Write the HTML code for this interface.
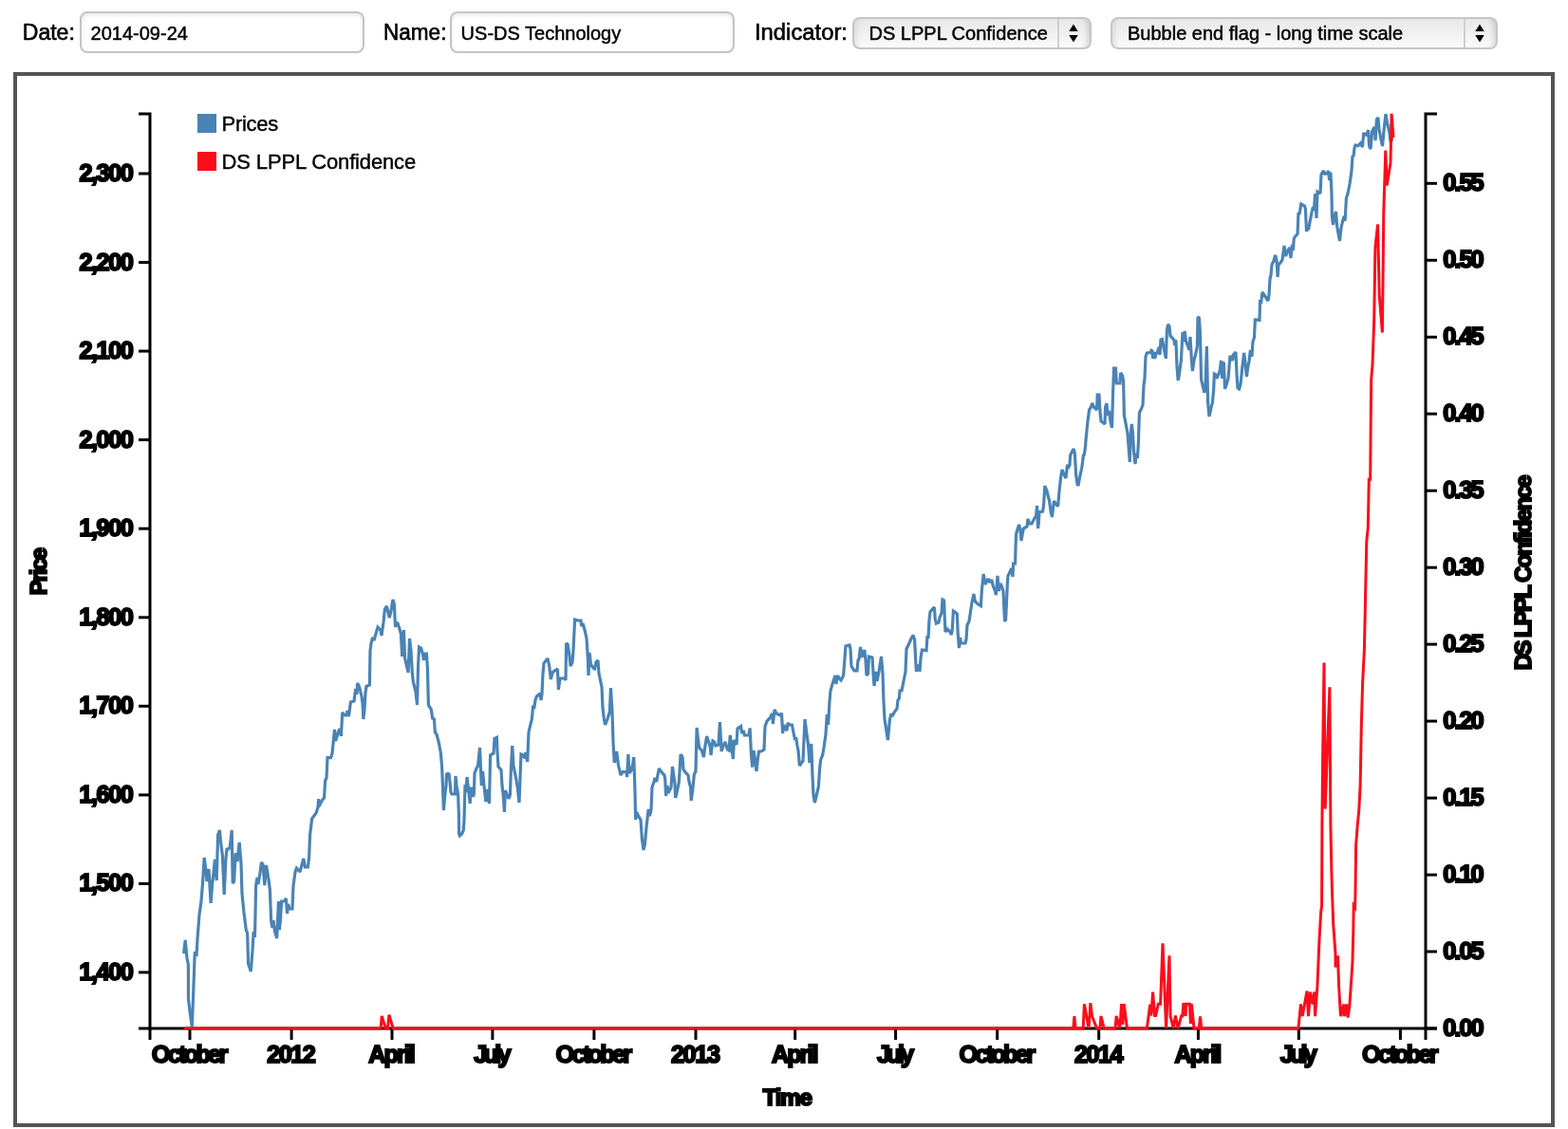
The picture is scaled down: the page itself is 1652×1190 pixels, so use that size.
<!DOCTYPE html>
<html lang="en">
<head>
<meta charset="utf-8">
<title>DS LPPL Confidence</title>
<style>
html,body{margin:0;padding:0;background:#fff;}
body{width:1652px;height:1190px;position:relative;overflow:hidden;font-family:"Liberation Sans",sans-serif;color:#000;}
.lbl{position:absolute;top:20px;height:28px;line-height:28px;font-size:23px;white-space:nowrap;transform-origin:0 50%;-webkit-text-stroke:0.6px #000;}
.inp{position:absolute;top:12px;height:44px;box-sizing:border-box;border:2px solid #c4c4c4;border-radius:8px;background:#fff;
 box-shadow:inset 0 2px 4px rgba(0,0,0,.10);font-size:20px;line-height:42px;padding-left:9.6px;white-space:nowrap;-webkit-text-stroke:0.45px #000;}
.sel{position:absolute;top:18px;height:34px;box-sizing:border-box;border:2px solid #c6c6c6;border-radius:8px;
 background:linear-gradient(#e8e8e8,#efefef 45%,#fbfbfb);box-shadow:inset -7px 0 6px -5px rgba(0,0,0,.16), inset 7px 0 6px -5px rgba(0,0,0,.10);font-size:20px;line-height:31px;padding-left:16px;white-space:nowrap;-webkit-text-stroke:0.45px #000;}
.sel .dv{position:absolute;top:0;bottom:0;width:2px;background:#cfcfcf;}
.sel svg{position:absolute;top:5px;}
#frame{position:absolute;left:14px;top:76px;width:1624px;height:1112px;box-sizing:border-box;border:4px solid #555;}
.tl text{font-family:"Liberation Sans",sans-serif;font-weight:bold;font-size:25.3px;fill:#000;stroke:#000;stroke-width:2px;stroke-linejoin:miter;}
.lg text{font-family:"Liberation Sans",sans-serif;font-size:22px;fill:#000;stroke:#000;stroke-width:0.4px;}
</style>
</head>
<body>
<div class="lbl" id="l1" style="left:23.8px">Date:</div>
<div class="inp" style="left:84px;width:300px">2014-09-24</div>
<div class="lbl" id="l2" style="left:403.6px;transform:scaleX(.98)">Name:</div>
<div class="inp" style="left:474px;width:300px">US-DS Technology</div>
<div class="lbl" id="l3" style="left:794.6px;transform:scaleX(1.035)">Indicator:</div>
<div class="sel" style="left:897.5px;width:252px">DS LPPL Confidence<span class="dv" style="left:214px"></span>
<svg style="left:224.5px" width="14" height="20" viewBox="0 0 14 20"><path d="M7 0.5L11.7 8H2.3Z M7 19.5L2.3 12H11.7Z" fill="#000"/></svg></div>
<div class="sel" style="left:1170px;width:408px">Bubble end flag - long time scale<span class="dv" style="left:370px"></span>
<svg style="left:380px" width="14" height="20" viewBox="0 0 14 20"><path d="M7 0.5L11.7 8H2.3Z M7 19.5L2.3 12H11.7Z" fill="#000"/></svg></div>
<div id="frame"></div>
<svg width="1652" height="1190" viewBox="0 0 1652 1190" style="position:absolute;left:0;top:0">
<defs><clipPath id="cp"><rect x="150" y="119.5" width="1360" height="970"/></clipPath></defs>
<g fill="none" stroke="#000" stroke-width="3" shape-rendering="auto">
<path d="M146,120H158V1084H146"/>
<path d="M1514,120H1502V1084H1514"/>
<path d="M158,1096V1084H1502V1096"/>
<line x1="146" x2="158" y1="183.0" y2="183.0"/>
<line x1="146" x2="158" y1="276.6" y2="276.6"/>
<line x1="146" x2="158" y1="370.1" y2="370.1"/>
<line x1="146" x2="158" y1="463.6" y2="463.6"/>
<line x1="146" x2="158" y1="557.2" y2="557.2"/>
<line x1="146" x2="158" y1="650.8" y2="650.8"/>
<line x1="146" x2="158" y1="744.3" y2="744.3"/>
<line x1="146" x2="158" y1="837.9" y2="837.9"/>
<line x1="146" x2="158" y1="931.4" y2="931.4"/>
<line x1="146" x2="158" y1="1024.9" y2="1024.9"/>
<line x1="1502" x2="1514" y1="1084.0" y2="1084.0"/>
<line x1="1502" x2="1514" y1="1003.0" y2="1003.0"/>
<line x1="1502" x2="1514" y1="922.1" y2="922.1"/>
<line x1="1502" x2="1514" y1="841.1" y2="841.1"/>
<line x1="1502" x2="1514" y1="760.1" y2="760.1"/>
<line x1="1502" x2="1514" y1="679.1" y2="679.1"/>
<line x1="1502" x2="1514" y1="598.2" y2="598.2"/>
<line x1="1502" x2="1514" y1="517.2" y2="517.2"/>
<line x1="1502" x2="1514" y1="436.2" y2="436.2"/>
<line x1="1502" x2="1514" y1="355.3" y2="355.3"/>
<line x1="1502" x2="1514" y1="274.3" y2="274.3"/>
<line x1="1502" x2="1514" y1="193.3" y2="193.3"/>
<line x1="200.0" x2="200.0" y1="1084" y2="1096"/>
<line x1="307.1" x2="307.1" y1="1084" y2="1096"/>
<line x1="413.0" x2="413.0" y1="1084" y2="1096"/>
<line x1="518.9" x2="518.9" y1="1084" y2="1096"/>
<line x1="625.9" x2="625.9" y1="1084" y2="1096"/>
<line x1="733.0" x2="733.0" y1="1084" y2="1096"/>
<line x1="837.7" x2="837.7" y1="1084" y2="1096"/>
<line x1="943.6" x2="943.6" y1="1084" y2="1096"/>
<line x1="1050.7" x2="1050.7" y1="1084" y2="1096"/>
<line x1="1157.7" x2="1157.7" y1="1084" y2="1096"/>
<line x1="1262.4" x2="1262.4" y1="1084" y2="1096"/>
<line x1="1368.3" x2="1368.3" y1="1084" y2="1096"/>
<line x1="1475.4" x2="1475.4" y1="1084" y2="1096"/>
</g>
<g class="tl">
<text x="140.9" y="191.0" text-anchor="end" textLength="57.5" lengthAdjust="spacing">2,300</text>
<text x="140.9" y="284.6" text-anchor="end" textLength="57.5" lengthAdjust="spacing">2,200</text>
<text x="140.9" y="378.1" text-anchor="end" textLength="57.5" lengthAdjust="spacing">2,100</text>
<text x="140.9" y="471.6" text-anchor="end" textLength="57.5" lengthAdjust="spacing">2,000</text>
<text x="140.9" y="565.2" text-anchor="end" textLength="57.5" lengthAdjust="spacing">1,900</text>
<text x="140.9" y="658.8" text-anchor="end" textLength="57.5" lengthAdjust="spacing">1,800</text>
<text x="140.9" y="752.3" text-anchor="end" textLength="57.5" lengthAdjust="spacing">1,700</text>
<text x="140.9" y="845.9" text-anchor="end" textLength="57.5" lengthAdjust="spacing">1,600</text>
<text x="140.9" y="939.4" text-anchor="end" textLength="57.5" lengthAdjust="spacing">1,500</text>
<text x="140.9" y="1032.9" text-anchor="end" textLength="57.5" lengthAdjust="spacing">1,400</text>
<text x="1520.2" y="1092.0" text-anchor="start" textLength="43.5" lengthAdjust="spacing">0.00</text>
<text x="1520.2" y="1011.0" text-anchor="start" textLength="43.5" lengthAdjust="spacing">0.05</text>
<text x="1520.2" y="930.1" text-anchor="start" textLength="43.5" lengthAdjust="spacing">0.10</text>
<text x="1520.2" y="849.1" text-anchor="start" textLength="43.5" lengthAdjust="spacing">0.15</text>
<text x="1520.2" y="768.1" text-anchor="start" textLength="43.5" lengthAdjust="spacing">0.20</text>
<text x="1520.2" y="687.1" text-anchor="start" textLength="43.5" lengthAdjust="spacing">0.25</text>
<text x="1520.2" y="606.2" text-anchor="start" textLength="43.5" lengthAdjust="spacing">0.30</text>
<text x="1520.2" y="525.2" text-anchor="start" textLength="43.5" lengthAdjust="spacing">0.35</text>
<text x="1520.2" y="444.2" text-anchor="start" textLength="43.5" lengthAdjust="spacing">0.40</text>
<text x="1520.2" y="363.3" text-anchor="start" textLength="43.5" lengthAdjust="spacing">0.45</text>
<text x="1520.2" y="282.3" text-anchor="start" textLength="43.5" lengthAdjust="spacing">0.50</text>
<text x="1520.2" y="201.3" text-anchor="start" textLength="43.5" lengthAdjust="spacing">0.55</text>
<text x="200.0" y="1119.6" text-anchor="middle" textLength="80.6" lengthAdjust="spacing">October</text>
<text x="307.1" y="1119.6" text-anchor="middle" textLength="51.6" lengthAdjust="spacing">2012</text>
<text x="413.0" y="1119.6" text-anchor="middle" textLength="49.6" lengthAdjust="spacing">April</text>
<text x="518.9" y="1119.6" text-anchor="middle" textLength="39.2" lengthAdjust="spacing">July</text>
<text x="625.9" y="1119.6" text-anchor="middle" textLength="80.6" lengthAdjust="spacing">October</text>
<text x="733.0" y="1119.6" text-anchor="middle" textLength="52.2" lengthAdjust="spacing">2013</text>
<text x="837.7" y="1119.6" text-anchor="middle" textLength="49.6" lengthAdjust="spacing">April</text>
<text x="943.6" y="1119.6" text-anchor="middle" textLength="39.2" lengthAdjust="spacing">July</text>
<text x="1050.7" y="1119.6" text-anchor="middle" textLength="80.6" lengthAdjust="spacing">October</text>
<text x="1157.7" y="1119.6" text-anchor="middle" textLength="51.6" lengthAdjust="spacing">2014</text>
<text x="1262.4" y="1119.6" text-anchor="middle" textLength="49.6" lengthAdjust="spacing">April</text>
<text x="1368.3" y="1119.6" text-anchor="middle" textLength="39.2" lengthAdjust="spacing">July</text>
<text x="1475.4" y="1119.6" text-anchor="middle" textLength="80.6" lengthAdjust="spacing">October</text>
</g>
<g class="tl">
<text x="829.8" y="1164.8" text-anchor="middle" textLength="52.2" lengthAdjust="spacing" style="font-size:24.3px">Time</text>
<text transform="translate(49,602.2) rotate(-90)" text-anchor="middle" textLength="50.3" lengthAdjust="spacing" style="font-size:24.3px">Price</text>
<text transform="translate(1613,603.4) rotate(-90)" text-anchor="middle" textLength="205.6" lengthAdjust="spacing" style="font-size:24.3px">DS LPPL Confidence</text>
</g>
<g clip-path="url(#cp)" fill="none" stroke-linejoin="miter" stroke-linecap="butt">
<polyline stroke="#4a83b5" stroke-width="3.2" stroke-miterlimit="2" points="193.6,1005.0 195.2,991.0 197.0,1010.0 198.4,1017.0 198.4,1052.0 200.0,1066.0 202.3,1082.0 203.6,1050.0 205.0,1010.0 205.4,1003.0 207.0,1008.0 208.0,990.0 210.0,964.0 212.0,950.0 213.6,930.0 215.2,904.0 217.0,918.0 218.0,929.0 220.0,916.0 222.1,952.0 223.6,932.0 225.0,920.0 226.4,906.0 228.2,928.0 229.6,880.0 231.4,875.0 232.4,886.0 234.4,902.0 236.2,943.0 238.0,904.0 239.0,895.0 241.0,895.0 242.4,892.0 244.2,875.0 245.2,931.0 246.6,929.0 248.2,899.0 250.0,908.0 252.2,888.0 254.0,910.0 255.0,942.0 257.0,962.0 259.4,981.0 260.6,983.0 261.6,1016.0 263.0,1020.0 264.3,1024.0 266.0,1002.0 267.2,982.0 268.5,988.0 269.6,934.0 271.0,925.0 272.0,932.0 274.0,920.0 275.4,909.0 277.0,911.0 278.8,933.0 280.5,912.0 283.0,927.0 284.4,938.0 285.6,970.0 287.0,978.0 288.0,970.0 289.6,982.0 291.7,989.0 293.5,950.0 294.4,980.0 295.4,970.0 296.6,950.0 299.4,950.0 301.4,947.0 302.5,963.0 303.6,953.0 305.0,958.0 308.0,958.0 309.0,934.0 311.0,919.0 312.4,915.0 316.0,919.0 319.8,905.0 321.4,914.0 324.4,914.0 325.6,904.0 326.6,880.0 328.6,863.0 333.0,857.0 335.0,851.0 335.6,842.0 336.0,850.0 339.0,844.0 341.6,840.6 342.6,823.0 344.0,820.0 345.0,798.6 348.6,798.6 350.0,794.0 351.6,778.0 352.5,769.0 353.6,781.0 356.0,773.0 357.8,768.0 359.4,776.0 360.7,751.0 363.6,754.0 365.4,754.0 366.0,749.0 367.5,755.0 369.4,740.0 373.0,739.0 374.7,726.0 376.0,732.0 376.6,720.0 378.6,724.0 381.0,734.0 382.0,741.0 382.8,758.0 384.0,748.0 385.0,730.0 386.0,723.4 389.4,722.0 390.0,686.0 391.0,678.0 392.6,672.0 394.0,675.0 396.0,668.0 398.0,661.0 401.0,664.0 402.0,670.0 404.0,656.0 405.4,642.0 407.4,639.0 410.3,651.0 412.0,644.0 413.0,637.0 414.0,632.0 415.4,637.0 416.5,661.0 417.6,656.0 419.0,657.0 421.0,663.0 422.4,668.0 423.7,692.0 425.4,664.0 426.6,694.0 429.0,704.0 430.1,709.0 431.5,673.0 433.0,686.0 434.4,710.0 435.4,719.0 438.0,729.0 439.5,743.0 440.6,700.0 441.6,682.0 443.6,683.0 445.6,690.0 446.4,696.0 447.4,689.0 449.4,689.0 450.4,704.0 451.4,743.0 454.4,748.0 455.6,757.0 457.4,758.0 458.4,772.0 460.0,774.0 462.4,783.0 464.4,794.0 465.6,808.0 466.6,832.0 467.4,854.0 468.6,840.0 470.0,828.0 470.6,815.0 472.0,816.0 473.0,815.0 474.0,824.0 475.0,835.0 476.0,837.0 479.4,837.0 480.0,818.0 481.0,828.0 482.6,837.0 483.4,858.0 483.6,879.0 484.4,881.0 486.5,879.0 488.3,875.0 489.0,865.0 489.4,850.0 490.0,827.0 491.0,835.0 492.0,819.0 494.0,836.0 495.2,847.0 496.0,831.0 498.0,831.0 498.6,840.0 499.4,836.0 500.0,815.0 502.0,810.0 503.6,807.0 505.5,788.0 507.3,828.0 508.6,813.0 510.0,828.0 511.9,845.0 513.2,832.0 515.5,847.0 516.6,796.0 520.0,794.0 521.0,778.6 523.4,777.4 524.0,792.0 525.0,808.0 528.0,811.4 529.0,828.0 530.4,840.0 531.4,856.0 532.4,833.0 536.0,842.0 537.4,838.0 538.4,811.0 539.7,786.0 541.0,807.0 543.6,820.0 545.4,831.0 547.0,846.0 548.0,820.0 549.0,795.0 551.0,796.0 553.0,799.0 553.6,793.0 555.7,803.0 557.0,772.0 558.6,765.0 560.4,758.0 561.6,744.0 563.0,745.0 564.0,738.0 565.4,734.0 569.0,731.0 570.0,738.0 571.0,731.0 572.0,710.0 573.0,699.0 577.0,694.0 578.7,702.0 580.4,716.0 582.0,709.0 585.0,706.6 587.4,705.0 588.4,727.0 589.4,719.0 590.4,715.0 595.0,715.0 596.0,717.0 596.6,678.0 598.0,679.0 600.0,691.0 601.0,702.0 603.0,698.0 604.0,686.0 605.6,653.0 609.0,654.0 612.0,654.0 612.6,660.0 614.0,657.0 616.0,664.0 618.0,673.0 619.4,694.0 620.0,712.0 621.1,688.0 622.4,700.0 625.0,704.0 626.6,705.0 628.0,698.0 630.0,696.0 631.0,710.0 634.0,724.0 635.0,746.0 636.4,758.0 637.6,764.0 640.0,758.0 642.4,750.0 643.5,725.0 645.0,750.0 646.0,782.0 647.3,804.0 649.7,792.0 651.4,806.0 653.0,813.0 654.0,817.0 656.0,813.6 660.0,813.6 660.6,819.0 661.9,795.0 663.0,815.0 665.0,812.0 666.6,806.0 667.8,798.0 669.0,834.0 669.6,864.0 670.6,856.0 672.6,860.0 675.0,864.0 676.4,884.0 678.0,896.0 679.4,890.0 681.0,872.0 683.2,853.0 684.4,860.0 686.0,854.0 687.0,830.0 689.0,824.0 690.0,820.0 691.7,824.0 694.3,810.0 697.0,814.0 700.0,817.0 700.8,822.0 701.6,839.0 703.0,828.0 704.0,836.0 707.0,830.0 708.5,808.0 711.0,826.0 711.6,841.0 713.0,836.0 715.4,824.0 717.1,795.0 719.0,798.0 720.0,811.0 722.0,814.0 725.0,817.0 726.0,824.0 727.6,830.0 728.2,844.0 729.6,834.0 731.4,816.0 733.0,813.0 734.1,767.0 735.6,780.0 736.6,788.0 739.4,791.0 741.4,798.0 743.0,786.0 744.6,776.0 747.0,783.0 748.4,788.0 749.0,796.0 750.0,788.0 751.0,781.0 752.6,782.0 754.0,786.0 757.0,785.0 758.5,761.0 760.1,792.0 762.0,786.0 764.0,782.0 766.4,790.0 768.0,791.0 769.3,775.0 771.0,790.0 772.4,800.0 773.4,780.0 776.0,785.0 777.0,768.0 780.6,765.6 781.6,773.0 783.4,770.0 784.4,775.0 789.0,775.0 790.1,767.4 791.4,794.0 792.6,808.6 794.1,791.0 796.0,806.0 797.0,813.0 798.6,798.0 799.6,792.0 802.0,792.0 805.0,790.0 806.0,766.0 808.0,760.0 811.0,757.0 813.6,752.0 814.4,763.0 816.0,748.0 818.0,752.0 822.0,754.0 823.5,751.6 824.6,773.0 826.0,764.0 827.4,768.0 829.0,770.0 830.0,762.0 831.6,764.0 834.4,764.0 836.0,772.0 837.6,780.0 838.6,777.0 840.0,786.0 841.0,791.0 842.4,807.0 846.0,802.0 848.0,758.0 850.0,774.0 851.4,784.0 853.0,804.0 854.8,784.0 856.0,818.0 857.0,838.0 858.4,846.0 860.6,837.0 862.4,829.0 863.6,810.0 864.6,801.0 866.6,796.0 868.0,788.0 870.0,774.0 871.3,753.0 872.6,764.0 874.0,739.0 875.0,728.0 877.0,721.0 879.0,715.0 880.0,712.0 881.0,721.0 882.4,712.0 885.0,716.0 886.0,717.0 888.6,712.0 890.0,694.0 891.0,681.0 895.0,680.0 896.0,684.0 897.0,702.0 900.0,707.0 903.0,707.0 904.0,696.0 905.0,695.0 906.5,682.0 908.0,693.0 909.0,686.4 911.0,686.4 912.0,696.0 913.0,712.0 914.6,710.0 915.4,692.0 919.0,693.0 920.0,709.0 921.0,723.0 922.7,708.0 924.0,718.0 926.0,708.0 928.5,692.0 930.0,710.0 931.0,740.0 932.0,758.0 935.4,780.0 937.4,759.0 939.0,752.0 940.0,755.0 942.0,751.0 945.0,747.0 946.0,738.0 947.4,736.0 948.0,728.0 950.0,728.0 954.0,708.0 955.0,684.0 957.0,680.0 959.6,674.0 962.0,669.6 963.6,674.0 964.4,690.0 965.4,708.0 966.0,703.5 967.8,700.5 969.0,707.8 970.0,694.0 971.4,685.0 976.0,685.6 977.0,670.0 978.0,673.0 979.0,654.0 980.0,645.0 982.4,642.0 984.4,640.0 985.2,652.0 986.4,657.0 989.0,656.0 990.0,651.0 992.0,646.0 993.0,632.0 994.6,633.0 995.4,654.0 996.0,666.0 998.0,663.0 1001.0,666.0 1002.4,669.0 1003.4,662.0 1004.4,644.0 1006.0,645.0 1008.4,647.0 1009.2,668.0 1010.5,683.0 1011.6,672.0 1012.6,678.0 1017.0,678.0 1018.0,674.0 1019.0,659.0 1021.0,655.0 1022.6,644.0 1024.0,635.0 1025.9,626.0 1027.4,634.0 1029.4,636.0 1033.4,638.6 1034.4,622.0 1036.2,605.0 1038.0,616.0 1041.0,610.0 1043.0,614.0 1044.7,611.0 1046.4,618.0 1048.4,623.0 1049.4,627.0 1051.0,607.0 1052.4,623.0 1054.0,615.0 1055.4,618.0 1057.0,623.0 1058.0,644.0 1058.6,655.0 1059.6,653.0 1060.6,632.0 1061.4,614.0 1062.0,607.0 1064.4,602.0 1065.6,599.0 1067.0,608.0 1067.6,594.0 1069.6,594.0 1070.0,578.0 1070.6,563.0 1072.0,558.0 1073.6,553.0 1075.0,558.0 1076.0,570.0 1077.0,564.0 1078.4,557.0 1082.0,555.0 1083.0,547.0 1085.0,552.0 1087.0,552.0 1090.0,546.0 1091.6,544.0 1092.6,533.0 1093.6,557.0 1094.4,550.0 1095.0,539.6 1098.6,539.0 1099.6,532.0 1100.8,512.0 1102.8,517.0 1105.6,528.0 1107.2,540.0 1108.4,545.0 1109.4,536.0 1110.5,528.0 1112.0,531.0 1114.6,533.6 1116.0,518.0 1117.5,504.0 1119.0,495.0 1121.0,500.0 1123.0,504.0 1124.5,490.0 1126.0,492.0 1127.0,490.0 1127.6,480.0 1130.0,475.0 1131.2,473.0 1132.4,478.0 1133.6,500.0 1135.0,510.0 1136.0,512.0 1137.6,503.0 1139.6,494.0 1140.6,487.0 1141.4,480.0 1142.4,479.0 1143.6,470.0 1144.0,464.0 1146.0,444.0 1147.6,432.0 1149.4,429.0 1150.7,425.0 1152.4,429.0 1155.6,432.0 1156.2,416.0 1158.0,416.0 1159.0,434.0 1160.0,444.0 1164.0,447.0 1164.6,429.0 1166.0,425.0 1167.0,438.0 1168.5,433.0 1170.0,444.0 1171.5,451.0 1172.6,414.0 1173.6,388.0 1175.4,388.0 1176.4,404.0 1180.0,404.0 1180.6,393.0 1182.6,396.0 1183.6,402.0 1184.4,438.0 1186.0,446.0 1188.0,457.0 1189.0,470.0 1190.3,487.0 1191.4,456.0 1192.4,447.0 1193.4,456.0 1194.6,476.0 1196.0,489.0 1197.4,478.0 1198.4,483.0 1199.4,466.0 1200.4,435.0 1202.4,431.0 1204.0,427.0 1205.0,406.0 1206.0,399.0 1207.0,376.0 1208.4,372.0 1212.0,371.6 1213.0,369.4 1214.0,370.0 1214.6,378.0 1215.6,371.0 1216.6,378.0 1218.0,373.0 1220.0,370.0 1221.0,366.0 1222.0,374.0 1223.0,358.0 1224.4,357.4 1226.0,366.0 1228.4,378.0 1229.4,348.0 1230.6,342.0 1232.0,344.0 1233.0,354.0 1235.0,356.0 1237.0,358.4 1237.6,364.0 1238.9,358.4 1240.0,386.0 1241.2,401.0 1242.0,397.0 1244.4,380.0 1246.0,350.0 1247.0,360.0 1248.2,349.0 1249.6,360.0 1252.0,366.0 1252.6,369.0 1254.0,355.0 1255.4,379.0 1256.4,391.0 1258.0,380.0 1260.0,372.0 1261.4,365.0 1262.0,334.0 1263.4,335.0 1264.4,350.0 1265.6,400.0 1267.0,406.0 1268.9,414.0 1270.0,406.0 1271.4,365.0 1272.6,424.0 1274.0,439.0 1276.0,430.0 1277.4,424.0 1278.6,412.0 1279.4,394.0 1281.0,395.0 1282.0,399.0 1284.0,394.0 1285.4,390.0 1286.5,380.0 1287.6,399.0 1288.4,382.0 1289.4,383.0 1290.5,410.0 1292.0,406.0 1294.0,399.0 1296.0,375.0 1298.6,380.0 1299.4,374.0 1302.0,371.0 1303.0,394.0 1304.0,409.0 1305.6,410.0 1307.0,405.0 1309.0,386.0 1310.7,372.0 1312.4,386.0 1313.4,397.0 1314.6,388.0 1316.0,381.0 1317.4,369.0 1318.9,376.0 1320.0,360.0 1321.4,356.0 1322.4,337.0 1327.0,337.4 1327.6,316.0 1328.6,320.0 1330.0,308.0 1332.0,311.0 1334.0,314.0 1336.0,317.0 1337.0,311.0 1338.0,294.0 1339.0,290.0 1340.0,279.0 1342.0,275.0 1343.6,269.0 1345.0,274.0 1346.1,292.0 1347.0,279.0 1349.0,277.0 1351.0,274.0 1353.0,259.0 1354.6,270.0 1357.0,264.0 1358.6,261.0 1359.9,272.0 1361.4,258.0 1362.4,264.0 1363.2,252.0 1364.0,250.0 1367.0,246.6 1368.0,224.0 1369.0,226.0 1370.8,215.0 1374.4,217.0 1375.4,220.0 1376.5,244.0 1377.6,241.0 1378.6,242.0 1380.0,234.0 1382.0,224.0 1383.4,218.0 1384.4,222.0 1385.6,204.0 1387.0,230.0 1388.0,202.0 1389.6,203.0 1391.0,204.0 1392.0,184.0 1394.3,180.0 1396.0,184.0 1397.4,181.6 1398.4,184.0 1399.6,180.0 1400.6,190.0 1401.9,181.6 1403.0,204.0 1403.4,228.0 1404.5,237.0 1406.0,228.0 1407.5,223.0 1408.6,238.0 1410.0,246.0 1411.5,254.0 1413.0,240.0 1414.4,234.0 1416.0,228.0 1417.1,233.0 1418.4,209.0 1420.0,204.0 1422.0,194.0 1424.0,180.0 1425.0,164.0 1426.0,165.0 1427.0,156.0 1428.0,153.0 1431.0,153.6 1433.4,151.0 1435.5,155.0 1436.6,141.0 1438.6,141.0 1440.0,143.0 1441.5,137.0 1442.6,154.0 1444.0,157.0 1445.5,139.0 1448.0,134.0 1449.1,148.0 1450.4,126.0 1451.9,124.0 1453.0,136.0 1454.4,144.0 1456.5,154.0 1458.0,138.0 1460.0,120.0 1461.6,130.0 1463.0,136.0 1464.0,140.0 1465.2,150.0 1466.4,147.0 1467.6,137.0"/>
<polyline stroke="#fb0d1c" stroke-width="3" points="194.0,1084.0 401.1,1084.0 402.3,1071.0 406.2,1084.0 408.4,1084.0 410.0,1069.6 414.1,1084.0 1130.8,1084.0 1131.9,1071.2 1133.1,1084.0 1141.2,1084.0 1142.4,1058.3 1147.0,1084.0 1148.9,1057.2 1150.5,1071.0 1155.6,1084.0 1158.9,1084.0 1160.0,1071.0 1163.3,1084.0 1175.0,1084.0 1176.2,1071.0 1179.9,1084.0 1181.6,1058.1 1182.9,1080.0 1184.2,1058.1 1187.5,1084.0 1208.4,1084.0 1211.7,1058.8 1212.9,1070.5 1214.6,1045.5 1216.6,1070.5 1217.6,1070.5 1220.3,1058.3 1222.6,1058.3 1225.0,994.4 1228.6,1084.0 1232.0,1007.4 1233.1,1071.0 1236.3,1084.0 1238.4,1070.5 1241.2,1084.0 1244.5,1071.0 1245.8,1071.0 1246.8,1058.5 1248.2,1058.5 1249.0,1071.0 1249.8,1058.2 1253.4,1058.2 1254.4,1079.0 1255.4,1058.2 1258.0,1084.0 1263.3,1084.0 1264.5,1071.3 1265.7,1084.0 1367.9,1084.0 1370.5,1058.5 1372.2,1071.1 1377.0,1044.5 1378.5,1071.1 1380.4,1045.5 1383.0,1058.5 1384.7,1045.5 1385.6,1071.1 1387.9,1040.0 1390.0,990.4 1391.7,961.0 1392.6,955.0 1392.9,870.0 1393.6,800.0 1395.0,698.6 1396.2,852.6 1400.9,724.3 1401.9,870.0 1402.8,915.0 1403.5,940.0 1404.7,973.6 1407.0,1005.5 1407.0,1019.4 1409.5,1007.2 1410.6,1040.0 1412.5,1071.1 1415.6,1058.5 1416.3,1071.1 1418.7,1058.5 1420.1,1072.5 1421.9,1059.5 1423.2,1040.0 1424.9,1015.6 1425.8,982.0 1426.2,954.5 1427.6,956.5 1428.0,940.0 1428.6,890.7 1430.2,870.0 1431.8,853.5 1433.1,828.7 1434.3,765.0 1435.6,720.0 1437.4,685.0 1437.5,680.0 1438.5,632.9 1439.8,570.9 1441.3,556.0 1442.3,505.2 1443.7,505.2 1444.2,447.0 1444.7,399.9 1446.0,385.0 1447.7,338.0 1448.9,261.0 1451.6,236.5 1453.2,311.0 1456.4,350.6 1457.8,224.0 1459.8,158.6 1461.2,195.6 1465.0,171.9 1466.1,119.5 1468.0,144.8"/>
</g>
<rect x="208" y="120" width="20" height="20" fill="#4a83b5"/>
<rect x="208" y="160" width="20" height="20" fill="#fb0d1c"/>
<g class="lg">
<text x="233.6" y="137.6" textLength="59.6" lengthAdjust="spacing">Prices</text>
<text x="233.6" y="177.8" textLength="204.6" lengthAdjust="spacing">DS LPPL Confidence</text>
</g>
</svg>
</body>
</html>
